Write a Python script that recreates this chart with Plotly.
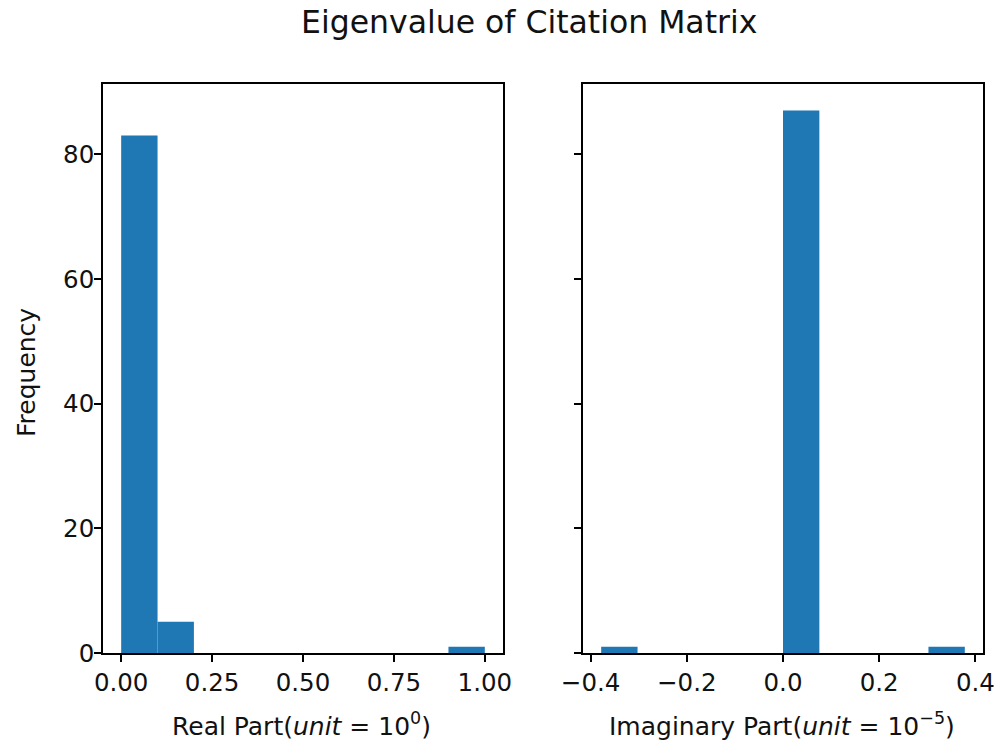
import plotly.graph_objects as go

# ---- data ----
real_bin_start = 0.0
real_bin_width = 0.1
real_counts = [83, 5, 0, 0, 0, 0, 0, 0, 0, 1]

imag_bin_start = -0.378
imag_bin_width = 0.0756
imag_counts = [1, 0, 0, 0, 0, 87, 0, 0, 0, 1]

real_ticks = [0.0, 0.25, 0.5, 0.75, 1.0]
real_ticklabels = ["0.00", "0.25", "0.50", "0.75", "1.00"]
imag_ticks = [-0.4, -0.2, 0.0, 0.2, 0.4]
imag_ticklabels = ["\u22120.4", "\u22120.2", "0.0", "0.2", "0.4"]
y_ticks = [0, 20, 40, 60, 80]

title_text = "Eigenvalue of Citation Matrix"
real_label = "Real Part(<i>unit</i> = 10<sup>0</sup>)"
imag_label = "Imaginary Part(<i>unit</i> = 10<sup>\u22125</sup>)"
y_label = "Frequency"

# ---- layout geometry ----
W, H = 995, 746
FONT = "DejaVu Sans"
BLUE = "#1f77b4"
TICK_SIZE = 24.5
LABEL_SIZE = 25
TITLE_SIZE = 31.5

def px_x(p):
    return p / W

def px_y(p):
    return 1 - p / H

real_left_edges = [real_bin_start + i * real_bin_width for i in range(len(real_counts))]
imag_left_edges = [imag_bin_start + i * imag_bin_width for i in range(len(imag_counts))]

fig = go.Figure()
fig.add_trace(go.Bar(x=real_left_edges, y=real_counts, width=real_bin_width, offset=0,
                     marker=dict(color=BLUE, line=dict(width=0)), xaxis="x", yaxis="y",
                     showlegend=False))
fig.add_trace(go.Bar(x=imag_left_edges, y=imag_counts, width=imag_bin_width, offset=0,
                     marker=dict(color=BLUE, line=dict(width=0)), xaxis="x2", yaxis="y2",
                     showlegend=False))

ymax = max(max(real_counts), max(imag_counts)) * 1.05
real_span = real_bin_width * len(real_counts)
imag_span = imag_bin_width * len(imag_counts)

axis_common = dict(showline=True, linecolor="black", linewidth=1.6, mirror=True,
                   ticks="outside", ticklen=7, tickwidth=1.6, tickcolor="black",
                   showgrid=False, zeroline=False, automargin=False,
                   ticklabeloverflow="allow",
                   tickfont=dict(family=FONT, size=TICK_SIZE, color="#111111"))

y_dom = [px_y(653), px_y(83.5)]

fig.update_layout(
    width=W, height=H,
    margin=dict(l=0, r=0, t=0, b=0),
    paper_bgcolor="white", plot_bgcolor="white",
    barmode="overlay",
    xaxis=dict(domain=[px_x(103), px_x(503)], anchor="y",
               range=[real_bin_start - 0.05 * real_span, real_bin_start + 1.05 * real_span],
               tickvals=real_ticks, ticktext=real_ticklabels, **axis_common),
    yaxis=dict(domain=y_dom, anchor="x", range=[0, ymax], tickvals=y_ticks,
               ticklabelstandoff=-5, **axis_common),
    xaxis2=dict(domain=[px_x(583), px_x(983)], anchor="y2",
                range=[imag_bin_start - 0.05 * imag_span, imag_bin_start + 1.05 * imag_span],
                tickvals=imag_ticks, ticktext=imag_ticklabels, **axis_common),
    yaxis2=dict(domain=y_dom, anchor="x2", range=[0, ymax], tickvals=y_ticks,
                showticklabels=False, matches="y", **axis_common),
    annotations=[
        dict(text=title_text, x=px_x(528.5), y=px_y(22), xref="paper", yref="paper",
             xanchor="center", yanchor="middle", showarrow=False,
             font=dict(family=FONT, size=TITLE_SIZE, color="#111111")),
        dict(text=real_label, x=px_x(301), y=px_y(724), xref="paper", yref="paper",
             xanchor="center", yanchor="middle", showarrow=False,
             font=dict(family=FONT, size=LABEL_SIZE, color="#111111")),
        dict(text=imag_label, x=px_x(782), y=px_y(724), xref="paper", yref="paper",
             xanchor="center", yanchor="middle", showarrow=False,
             font=dict(family=FONT, size=LABEL_SIZE, color="#111111")),
        dict(text=y_label, x=px_x(26), y=px_y(373), xref="paper", yref="paper",
             xanchor="center", yanchor="middle", showarrow=False, textangle=-90,
             font=dict(family=FONT, size=LABEL_SIZE, color="#111111")),
    ],
)

fig.write_html("out.html")
